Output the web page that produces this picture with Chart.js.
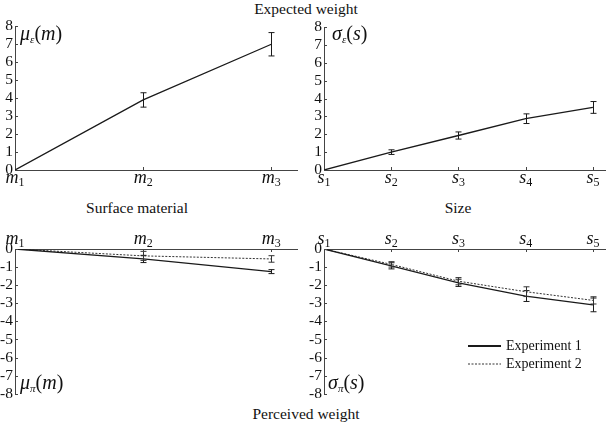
<!DOCTYPE html>
<html>
<head>
<meta charset="utf-8">
<script src="https://cdn.jsdelivr.net/npm/chart.js@4.4.0/dist/chart.umd.min.js"></script>
<style>
  body { margin: 0; background: #fff; }
  #wrap { position: relative; width: 609px; height: 424px; overflow: hidden; font-family: "Liberation Serif", serif; color: #111; }
  canvas { position: absolute; }
  .title { position: absolute; font-size: 15.5px; line-height: 16px; white-space: nowrap; transform: translateX(-50%); }
  .ax { position: absolute; font-size: 20px; line-height: 20px; white-space: nowrap; }
  .ax i { font-style: italic; }
  .ax sub { font-size: 11px; font-style: italic; vertical-align: baseline; position: relative; top: 3px; }
</style>
</head>
<body>
<div id="wrap">
  <div class="title" style="left:306px; top:1px;">Expected weight</div>
  <div class="title" style="left:137px; top:200px;">Surface material</div>
  <div class="title" style="left:458px; top:200px;">Size</div>
  <div class="title" style="left:306px; top:406px;">Perceived weight</div>

  <canvas id="c1" width="302" height="175" style="left:0; top:15px;"></canvas>
  <canvas id="c2" width="309" height="175" style="left:300px; top:15px;"></canvas>
  <canvas id="c3" width="302" height="180" style="left:0; top:225px;"></canvas>
  <canvas id="c4" width="309" height="180" style="left:300px; top:225px;"></canvas>

  <div class="ax" style="left:20px; top:23px;"><i>μ</i><sub>ε</sub>(<i>m</i>)</div>
  <div class="ax" style="left:332px; top:23px;"><i>σ</i><sub>ε</sub>(<i>s</i>)</div>
  <div class="ax" style="left:20px; top:372px;"><i>μ</i><sub>π</sub>(<i>m</i>)</div>
  <div class="ax" style="left:328px; top:372px;"><i>σ</i><sub>π</sub>(<i>s</i>)</div>
</div>
<script>
// categories
const materials = ['m1', 'm2', 'm3'];
const sizes = ['s1', 's2', 's3', 's4', 's5'];

// expected weight (top row)
const expMaterial = [0, 3.9, 7.0];
const expMaterialErr = [0, 0.4, 0.65];
const expSize = [0, 1.0, 1.93, 2.87, 3.5];
const expSizeErr = [0, 0.13, 0.2, 0.27, 0.33];

// perceived weight (bottom row), two experiments
const perMaterial1 = [0, -0.55, -1.25];
const perMaterial1Err = [0, 0.2, 0.11];
const perMaterial2 = [0, -0.38, -0.55];
const perMaterial2Err = [0, 0.25, 0.18];
const perSize1 = [0, -0.93, -1.87, -2.6, -3.09];
const perSize1Err = [0, 0.17, 0.2, 0.3, 0.38];
const perSize2 = [0, -0.85, -1.78, -2.36, -2.84];
const perSize2Err = [0, 0.15, 0.2, 0.27, 0.2];

const expTicks = [0, 8];
const perTicks = [-8, 0];
const seriesNames = ['Experiment 1', 'Experiment 2'];

const serif = '"Liberation Serif", "Times New Roman", serif';
const ink = '#111';

function pts(vals) {
  return vals.map((v, i) => ({ x: i, y: v }));
}

// error bars, inward ticks, subscripted category labels, legend
const extras = {
  id: 'extras',
  afterDatasetsDraw(chart) {
    const { ctx, chartArea: a, scales: { x, y } } = chart;
    ctx.save();
    chart.data.datasets.forEach(ds => {
      if (!ds.errors) return;
      ctx.strokeStyle = ds.borderColor;
      ctx.lineWidth = 1;
      ctx.setLineDash([]);
      ds.data.forEach((p, i) => {
        const e = ds.errors[i];
        if (!e) return;
        const px = Math.round(x.getPixelForValue(p.x)) + 0.5;
        const y0 = y.getPixelForValue(p.y - e);
        const y1 = y.getPixelForValue(p.y + e);
        ctx.beginPath();
        ctx.moveTo(px, y0); ctx.lineTo(px, y1);
        ctx.moveTo(px - 3, y0); ctx.lineTo(px + 3, y0);
        ctx.moveTo(px - 3, y1); ctx.lineTo(px + 3, y1);
        ctx.stroke();
      });
    });

    const onTop = x.options.position === 'top';
    ctx.strokeStyle = '#444';
    ctx.lineWidth = 1;
    ctx.beginPath();
    y.ticks.forEach(t => {
      const py = Math.round(y.getPixelForValue(t.value)) + 0.5;
      ctx.moveTo(a.left, py); ctx.lineTo(a.left + 3, py);
    });
    const axisY = onTop ? a.top : a.bottom;
    chart.data.labels.forEach((c, i) => {
      if (i === 0) return;
      const px = Math.round(x.getPixelForValue(i)) + 0.5;
      ctx.moveTo(px, axisY); ctx.lineTo(px, onTop ? axisY + 3 : axisY - 3);
    });
    ctx.stroke();

    ctx.fillStyle = ink;
    ctx.textBaseline = 'alphabetic';
    chart.data.labels.forEach((c, i) => {
      const px = x.getPixelForValue(i);
      const base = onTop ? a.top - 5 : a.bottom + 13;
      ctx.font = 'italic 18px ' + serif;
      const w1 = ctx.measureText(c[0]).width;
      ctx.font = '12px ' + serif;
      const w2 = ctx.measureText(c.slice(1)).width;
      const sx = px - (w1 + w2) / 2;
      ctx.font = 'italic 18px ' + serif;
      ctx.fillText(c[0], sx, base);
      ctx.font = '12px ' + serif;
      ctx.fillText(c.slice(1), sx + w1, base + 3);
    });

    if (chart.options.plugins.extras && chart.options.plugins.extras.legend) {
      ctx.font = '14px ' + serif;
      chart.data.datasets.forEach((ds, i) => {
        const ly = a.top + 97 + i * 18;
        ctx.strokeStyle = ds.borderColor;
        ctx.lineWidth = i === 0 ? 2 : 1;
        ctx.setLineDash(ds.borderDash || []);
        ctx.beginPath();
        ctx.moveTo(a.right - 137, ly); ctx.lineTo(a.right - 104, ly);
        ctx.stroke();
        ctx.fillStyle = ink;
        ctx.fillText(ds.label, a.right - 99, ly + 4);
      });
    }
    ctx.restore();
  }
};

function makeChart(id, cats, sets, yRange, xMax, axisW, pad, xTop, legend) {
  return new Chart(document.getElementById(id), {
    type: 'line',
    data: { labels: cats, datasets: sets },
    options: {
      responsive: false,
      animation: false,
      layout: { padding: pad },
      elements: { point: { radius: 0 }, line: { tension: 0 } },
      plugins: { legend: { display: false }, tooltip: { enabled: false }, extras: { legend: legend } },
      scales: {
        x: {
          type: 'linear', min: 0, max: xMax,
          position: xTop ? 'top' : 'bottom',
          grid: { display: false },
          border: { display: true, color: '#444', width: 1 },
          ticks: { display: false },
          afterFit: s => { s.height = 0; }
        },
        y: {
          min: yRange[0], max: yRange[1],
          grid: { display: false, drawTicks: false },
          border: { display: true, color: '#444', width: 1 },
          ticks: { stepSize: 1, autoSkip: false, padding: 2, color: ink, font: { family: serif, size: 15.5 } },
          afterFit: s => { s.width = axisW; }
        }
      }
    },
    plugins: [extras]
  });
}

function series(label, vals, errs, dashed) {
  return {
    label: label,
    data: pts(vals),
    errors: errs,
    borderColor: dashed ? '#333' : '#1a1a1a',
    borderWidth: dashed ? 1 : 1.3,
    borderDash: dashed ? [2, 1.5] : [],
    fill: false
  };
}

makeChart('c1', materials, [series('', expMaterial, expMaterialErr, false)],
  expTicks, 2.2, 15, { top: 10, right: 5, bottom: 20, left: 0 }, false, false);
makeChart('c2', sizes, [series('', expSize, expSizeErr, false)],
  expTicks, 4.18, 24, { top: 12, right: 4, bottom: 20, left: 0 }, false, false);
makeChart('c3', materials, [
  series(seriesNames[0], perMaterial1, perMaterial1Err, false),
  series(seriesNames[1], perMaterial2, perMaterial2Err, true)
], perTicks, 2.2, 15, { top: 24, right: 5, bottom: 11, left: 0 }, true, false);
makeChart('c4', sizes, [
  series(seriesNames[0], perSize1, perSize1Err, false),
  series(seriesNames[1], perSize2, perSize2Err, true)
], perTicks, 4.18, 24, { top: 24, right: 4, bottom: 11, left: 0 }, true, true);
</script>
</body>
</html>
